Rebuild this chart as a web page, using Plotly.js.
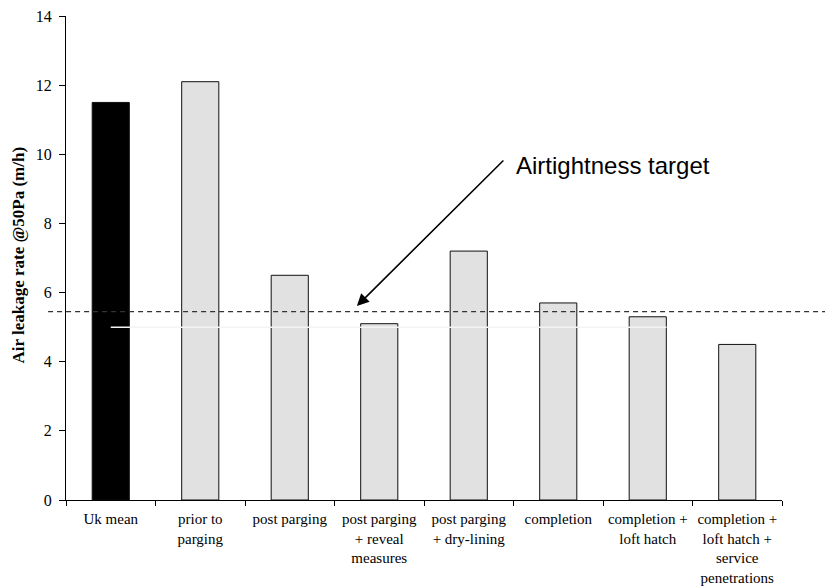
<!DOCTYPE html>
<html>
<head>
<meta charset="utf-8">
<script src="https://cdn.plot.ly/plotly-3.0.1.min.js"></script>
<style>
  html, body { margin: 0; padding: 0; background: #fff; }
  #chart { width: 825px; height: 586px; }
</style>
</head>
<body>
<div id="chart"></div>
<script>
// Air leakage at each construction stage, compared with the UK mean
const stages = [
  "Uk mean",
  "prior to<br>parging",
  "post parging",
  "post parging<br>+ reveal<br>measures",
  "post parging<br>+ dry-lining",
  "completion",
  "completion +<br>loft hatch",
  "completion +<br>loft hatch +<br>service<br>penetrations"
];
const leakage = [11.5, 12.1, 6.5, 5.1, 7.2, 5.7, 5.3, 4.5];
const barColors = ["#000000", "#e1e1e1", "#e1e1e1", "#e1e1e1", "#e1e1e1", "#e1e1e1", "#e1e1e1", "#e1e1e1"];
const targetRate = 5.45;
const referenceRate = 5;
const yTicks = [0, 2, 4, 6, 8, 10, 12, 14];

const serif = "Liberation Serif, Times New Roman, serif";

const trace = {
  type: "bar",
  x: stages,
  y: leakage,
  marker: { color: barColors, line: { color: "#111", width: 1 } },
  hoverinfo: "x+y",
  showlegend: false
};

const layout = {
  width: 825,
  height: 586,
  margin: { l: 66, r: 43, t: 16, b: 86 },
  paper_bgcolor: "#fff",
  plot_bgcolor: "#fff",
  bargap: 0.585,
  font: { family: serif, color: "#000" },
  xaxis: {
    type: "category",
    showline: true,
    linecolor: "#000",
    linewidth: 1,
    ticks: "outside",
    tickson: "boundaries",
    ticklen: 5,
    tickcolor: "#000",
    showgrid: false,
    zeroline: false,
    tickangle: 0,
    ticklabelstandoff: 5,
    tickfont: { family: serif, size: 15, color: "#000" },
    range: [-0.5, 7.5]
  },
  yaxis: {
    range: [0, 14],
    tickvals: yTicks,
    ticktext: yTicks.map(String),
    showline: true,
    linecolor: "#000",
    linewidth: 1,
    ticks: "outside",
    ticklen: 6,
    tickcolor: "#000",
    showgrid: false,
    zeroline: false,
    ticklabelstandoff: 4,
    tickfont: { family: serif, size: 16, color: "#000" }
  },
  shapes: [
    // white reference line at 5 m/h drawn over the bars
    { type: "line", xref: "x", yref: "y", x0: 0, x1: 6.21, y0: referenceRate, y1: referenceRate,
      line: { color: "#f4f4f4", width: 1.5 }, layer: "above" },
    // airtightness target
    { type: "line", xref: "paper", yref: "y", x0: -0.025, x1: 1.07, y0: targetRate, y1: targetRate,
      line: { color: "#333", width: 1.2, dash: "5px,4px" }, layer: "above" }
  ],
  annotations: [
    {
      xref: "paper", yref: "paper",
      x: (19 - 66) / 716, y: 0.505, xanchor: "center", yanchor: "middle",
      text: "<b>Air leakage rate @50Pa (m/h)</b>",
      textangle: -90, showarrow: false,
      font: { family: serif, size: 17, color: "#000" }
    },
    {
      xref: "x", yref: "y",
      x: 2.75, y: 5.61,
      ax: 148, ay: -147, axref: "pixel", ayref: "pixel",
      text: "", showarrow: true, arrowhead: 2, arrowsize: 1.5, arrowwidth: 1.6, arrowcolor: "#000"
    },
    {
      xref: "paper", yref: "paper",
      x: (514 - 66) / 716, y: 1 - (166 - 16) / 484, xanchor: "left", yanchor: "middle",
      text: "Airtightness target", showarrow: false,
      font: { family: "Liberation Sans, Arial, sans-serif", size: 24, color: "#000" }
    }
  ]
};

Plotly.newPlot("chart", [trace], layout, { staticPlot: true, displayModeBar: false });
</script>
</body>
</html>
